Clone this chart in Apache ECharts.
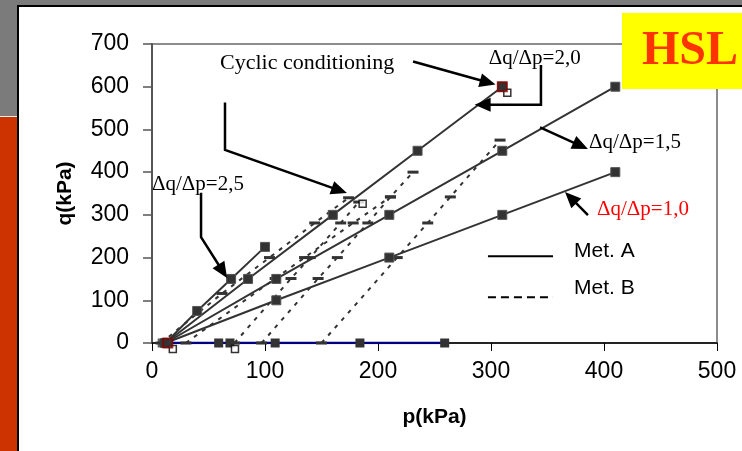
<!DOCTYPE html>
<html><head><meta charset="utf-8">
<script src="https://cdn.jsdelivr.net/npm/echarts@6/dist/echarts.min.js"></script>
<style>
html,body{margin:0;padding:0;width:742px;height:451px;overflow:hidden;background:#7b7b7b}
#strip{position:absolute;left:0;top:116px;width:18px;height:335px;background:#cc3300;border-top:1px solid #f0f0f0}
#panel{position:absolute;left:17px;top:5px;width:725px;height:446px;background:#fff;border-left:2px solid #000;border-top:2px solid #000;box-sizing:border-box}
#c{position:absolute;left:0;top:0;width:742px;height:451px}
</style>
</head><body><div id="strip"></div><div id="panel"></div><div id="c"></div>
<script>
// ---- data ----
const xTicks = [0, 100, 200, 300, 400, 500];
const yTicks = [0, 100, 200, 300, 400, 500, 600, 700];
// Met. A paths (solid)
const a10P = [12, 110, 210, 310, 410], a10Q = [0, 100, 200, 300, 400];
const a15P = [12, 110, 210, 310, 410], a15Q = [0, 150, 300, 450, 600];
const a20P = [12, 85, 160, 235, 310], a20Q = [0, 150, 300, 450, 600];
const a25P = [12, 40, 70, 100], a25Q = [0, 75, 150, 225];
// isotropic start points (q = 0)
const isoP = [14, 59, 69, 109, 184, 259], isoQ = [0, 0, 0, 0, 0, 0];
const startP = [9], startQ = [0];
// cyclic conditioning points
const cycP = [14, 69, 182, 310], cycQ = [0, 0, 340, 600];
// Met. B paths (dashed)
const b1P = [150, 217, 244, 264, 308], b1Q = [0, 200, 281, 342, 475];
const b2P = [97, 147, 164, 191, 211, 231], b2Q = [0, 151, 200, 281, 342, 400];
const b3P = [73, 123, 140, 167, 183], b3Q = [0, 151, 200, 281, 330];
const b4P = [8, 62, 104, 144, 174], b4Q = [0, 116, 200, 281, 340];
const b5P = [30, 109, 135, 178, 211], b5Q = [0, 151, 200, 281, 342];

const zip = (P, Q) => P.map((p, i) => [p, Q[i]]);
const dark = '#333';
const chart = echarts.init(document.getElementById('c'), null, {renderer: 'canvas'});

function lineA(P, Q) {
  return {type: 'line', data: zip(P, Q), symbol: 'rect', symbolSize: 9, z: 4,
    lineStyle: {color: dark, width: 2}, itemStyle: {color: dark, borderColor: '#555', borderWidth: 1}};
}
function lineB(P, Q) {
  return {type: 'line', data: zip(P, Q), symbol: 'rect', symbolSize: [11, 3], z: 3,
    lineStyle: {color: dark, width: 2, type: [4, 6]}, itemStyle: {color: dark}};
}

const option = {
  animation: false,
  grid: {left: 152, right: 25, top: 44, bottom: 108, show: true, borderColor: '#8c8c8c', borderWidth: 2, backgroundColor: 'transparent'},
  xAxis: {type: 'value', min: 0, max: 500, interval: 100,
    name: 'p(kPa)', nameLocation: 'middle', nameGap: 64,
    nameTextStyle: {fontFamily: 'Liberation Sans', fontWeight: 'bold', fontSize: 21, color: '#000'},
    axisLine: {lineStyle: {color: '#000', width: 1.5}},
    axisTick: {show: true, length: 8, lineStyle: {color: '#000'}},
    axisLabel: {margin: 17, fontFamily: 'Liberation Sans', fontSize: 23, color: '#000', formatter: v => xTicks.includes(v) ? String(v) : ''},
    splitLine: {show: false}},
  yAxis: {type: 'value', min: 0, max: 700, interval: 100,
    name: 'q(kPa)', nameLocation: 'middle', nameGap: 76, nameRotate: 90,
    nameTextStyle: {fontFamily: 'Liberation Sans', fontWeight: 'bold', fontSize: 21, color: '#000'},
    axisLine: {lineStyle: {color: '#555', width: 2}},
    axisTick: {show: true, length: 9, lineStyle: {color: '#555', width: 1.5}},
    axisLabel: {margin: 23, fontFamily: 'Liberation Sans', fontSize: 23, color: '#000', formatter: v => yTicks.includes(v) ? String(v) : ''},
    splitLine: {show: false}},
  series: [
    {type: 'line', data: zip(isoP, isoQ), symbol: 'rect', symbolSize: 9, z: 2,
      lineStyle: {color: '#000080', width: 2.5}, itemStyle: {color: dark}},
    lineB(b1P, b1Q), lineB(b2P, b2Q), lineB(b3P, b3Q), lineB(b4P, b4Q), lineB(b5P, b5Q),
    lineA(a10P, a10Q), lineA(a15P, a15Q), lineA(a20P, a20Q), lineA(a25P, a25Q),
    {type: 'scatter', data: zip(startP, startQ), symbol: 'rect', symbolSize: 9, z: 5, itemStyle: {color: dark}},
    {type: 'scatter', data: zip(cycP, cycQ), symbol: 'rect', symbolSize: 7, symbolOffset: [5, 6], z: 5, clip: false,
      itemStyle: {color: '#fff', borderColor: '#000', borderWidth: 1.5}},
    {type: 'scatter', data: [zip(cycP, cycQ)[0], zip(cycP, cycQ)[3]], symbol: 'rect', symbolSize: 9, z: 6,
      itemStyle: {color: dark, borderColor: '#8b0000', borderWidth: 2}}
  ]
};
chart.setOption(option);

// ---- annotations (in data coordinates) ----
const px = pt => chart.convertToPixel({gridIndex: 0}, pt);
const serif = 'Liberation Serif';
function arrow(pts, opts) {
  opts = opts || {};
  const P = pts.map(px);
  const n = P.length, tip = P[n - 1], prev = P[n - 2];
  const dx = tip[0] - prev[0], dy = tip[1] - prev[1], L = Math.hypot(dx, dy);
  const ux = dx / L, uy = dy / L, hl = opts.hl || 16, hw = opts.hw || 7;
  const bx = tip[0] - ux * hl, by = tip[1] - uy * hl;
  const line = P.slice(0, n - 1).concat([[bx + ux * 2, by + uy * 2]]);
  return [
    {type: 'polyline', shape: {points: line}, style: {stroke: '#000', lineWidth: opts.w || 2.5, fill: null}, z: 20},
    {type: 'polygon', shape: {points: [tip, [bx - uy * hw, by + ux * hw], [bx + uy * hw, by - ux * hw]]}, style: {fill: '#000'}, z: 20}
  ];
}
function label(text, pt, o) {
  const p = px(pt);
  return {type: 'text', x: p[0], y: p[1], z: 21, style: Object.assign({text: text, fontFamily: serif, fontSize: 21, fill: '#000', textVerticalAlign: 'middle', textAlign: 'left'}, o || {})};
}
const g = [];
g.push(label('Cyclic conditioning', [60.2, 656], {fontSize: 22}));
g.push(...arrow([[231, 659], [304, 605]]));
g.push(...arrow([[64.6, 563], [64.6, 452], [172.5, 351]]));
g.push(label('\u0394q/\u0394p=2,0', [298, 666]));
g.push(...arrow([[344.2, 651], [344.2, 558], [285.5, 558]]));
g.push(label('\u0394q/\u0394p=2,5', [0, 372]));
g.push(...arrow([[43.4, 352], [43.4, 248], [66.4, 152]]));
g.push(label('\u0394q/\u0394p=1,5', [386.7, 469]));
g.push(...arrow([[343.4, 505], [385.8, 454]]));
g.push(label('\u0394q/\u0394p=1,0', [393.8, 313.6], {fill: '#ff0000'}));
g.push(...arrow([[385.8, 299.5], [365.5, 353.5]]));
// legend
const l1 = [px([297.3, 203]), px([354.9, 203])], l2 = [px([297.3, 107]), px([354.9, 107])];
g.push({type: 'line', shape: {x1: l1[0][0], y1: l1[0][1], x2: l1[1][0], y2: l1[1][1]}, style: {stroke: '#000', lineWidth: 2}, z: 20});
g.push({type: 'line', shape: {x1: l2[0][0], y1: l2[0][1], x2: l2[1][0], y2: l2[1][1]}, style: {stroke: '#000', lineWidth: 2, lineDash: [8, 5]}, z: 20});
g.push(label('Met. A', [373.5, 215], {fontFamily: 'Liberation Sans', fontSize: 21}));
g.push(label('Met. B', [373.5, 128], {fontFamily: 'Liberation Sans', fontSize: 21}));
// HSL badge
g.push({type: 'rect', shape: {x: 622, y: 13, width: 122, height: 76}, style: {fill: '#ffff00'}, z: 30});
g.push({type: 'text', x: 690, y: 52, z: 31, style: {text: 'HSL', fontFamily: serif, fontWeight: 'bold', fontSize: 48, fill: '#ff3300', textAlign: 'center', textVerticalAlign: 'middle'}});
chart.setOption({graphic: g});
</script></body></html>
